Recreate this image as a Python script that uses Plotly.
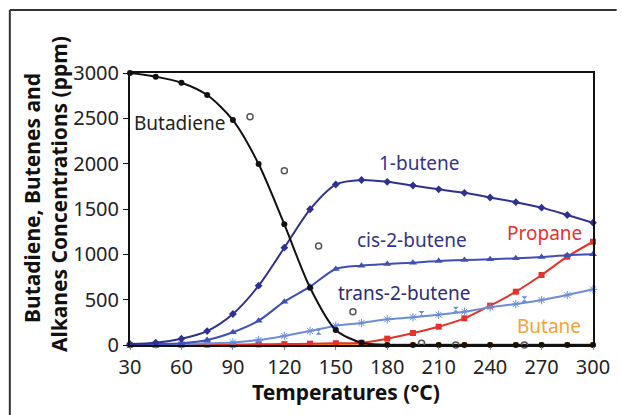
import plotly.graph_objects as go

temps = [30, 45, 60, 75, 90, 105, 120, 135, 150, 165, 180, 195, 210, 225, 240, 255, 270, 285, 300]

butadiene = [3000, 2960, 2893, 2757, 2481, 1996, 1331, 632, 165, 25, 0, 0, 0, 0, 0, 0, 0, 0, 0]
butene1 = [10, 25, 70, 154, 342, 654, 1073, 1497, 1770, 1820, 1800, 1759, 1717, 1678, 1627, 1575, 1515, 1434, 1349]
cis2 = [5, 10, 20, 55, 140, 268, 478, 643, 838, 875, 893, 908, 926, 937, 945, 956, 970, 989, 1000]
trans2 = [3, 5, 10, 18, 28, 55, 100, 154, 213, 243, 283, 305, 334, 367, 416, 452, 496, 551, 614]
propane = [0, 2, 3, 5, 5, 8, 10, 15, 20, 25, 70, 132, 202, 294, 434, 588, 772, 974, 1139]
butane = [0, 0, 0, 0, 0, 2, 2, 3, 5, 5, 5, 5, 5, 5, 5, 5, 5, 5, 5]

extra_x = [100, 120, 140, 160, 200, 220, 260]
extra_y = [2518, 1922, 1092, 367, 18, 0, 0]

trans_extra_x = [140, 200, 220, 260]
trans_extra_y = [145, 343, 390, 505]

labels = ["Butadiene", "1-butene", "cis-2-butene", "trans-2-butene", "Propane", "Butane"]
label_x = [59, 198.5, 194.7, 189.7, 271.7, 274.5]
label_y = [2445, 2004, 1158, 570, 1232, 210]
label_colors = ["#222222", "#33338a", "#33338a", "#2c2c78", "#e8312f", "#f7a233"]

x_ticks = [30, 60, 90, 120, 150, 180, 210, 240, 270, 300]
y_ticks = [0, 500, 1000, 1500, 2000, 2500, 3000]

FONT = "Noto Sans"

fig = go.Figure()

def add_series(y, color, symbol, size, width=2):
    fig.add_trace(go.Scatter(
        x=temps, y=y, mode="lines+markers",
        line=dict(color=color, width=width, shape="spline", smoothing=0.8),
        marker=dict(color=color, symbol=symbol, size=size),
        cliponaxis=False, showlegend=False))

add_series(butane, "#f7941d", "square", 5)
add_series(propane, "#e5312b", "square", 6)
add_series(trans2, "#6b8ed6", "asterisk-open", 7, 2)
fig.add_trace(go.Scatter(x=trans_extra_x, y=trans_extra_y, mode="markers",
                         marker=dict(symbol="hourglass", size=6, color="#6b8ed6"),
                         cliponaxis=False, showlegend=False))
add_series(cis2, "#3f4fb3", "triangle-up", 7)
add_series(butene1, "#2e3190", "diamond", 6)
add_series(butadiene, "#111111", "circle", 6)
fig.add_trace(go.Scatter(x=extra_x, y=extra_y, mode="markers",
                         marker=dict(symbol="circle-open", size=6, color="#555555",
                                     line=dict(width=1.5)),
                         cliponaxis=False, showlegend=False))

for t, lx, ly, c in zip(labels, label_x, label_y, label_colors):
    fig.add_annotation(x=lx, y=ly, text=t, showarrow=False, xanchor="center",
                       yanchor="middle", font=dict(family=FONT, size=19, color=c))

# axis titles
fig.add_annotation(xref="paper", yref="paper", x=(349 - 130) / 470, y=(345 - 391.7) / 272,
                   text="<b>Temperatures (°C)</b>", showarrow=False,
                   xanchor="center", yanchor="middle",
                   font=dict(family=FONT, size=21, color="#111111"))
fig.add_annotation(xref="paper", yref="paper", x=(30 - 130) / 470, y=(345 - 197.5) / 272,
                   text="<b>Butadiene, Butenes and</b>", showarrow=False, textangle=-90,
                   xanchor="center", yanchor="middle",
                   font=dict(family=FONT, size=21, color="#111111"))
fig.add_annotation(xref="paper", yref="paper", x=(57.5 - 130) / 470, y=(345 - 194.5) / 272,
                   text="<b>Alkanes Concentrations (ppm)</b>", showarrow=False, textangle=-90,
                   xanchor="center", yanchor="middle",
                   font=dict(family=FONT, size=21, color="#111111"))

# outer frame lines (top and left)
fig.add_shape(type="line", xref="paper", yref="paper",
              x0=(8 - 130) / 470, x1=(624 - 130) / 470,
              y0=(345 - 10) / 272, y1=(345 - 10) / 272,
              line=dict(color="#333333", width=2))
fig.add_shape(type="line", xref="paper", yref="paper",
              x0=(8 - 130) / 470, x1=(8 - 130) / 470,
              y0=(345 - 10) / 272, y1=(345 - 420) / 272,
              line=dict(color="#333333", width=2))

fig.update_layout(
    width=622, height=415,
    margin=dict(l=130, r=22, t=73, b=70),
    paper_bgcolor="white", plot_bgcolor="white",
    font=dict(family=FONT, size=20, color="#222222"),
    xaxis=dict(range=[30, 300], tickvals=x_ticks, showgrid=False, zeroline=False,
               showline=True, linecolor="#111111", linewidth=2, mirror=True,
               ticks="outside", ticklen=3, tickcolor="#888888",
               tickfont=dict(family=FONT, size=20, color="#222222")),
    yaxis=dict(range=[0, 3000], tickvals=y_ticks, showgrid=False, zeroline=False,
               showline=True, linecolor="#111111", linewidth=2, mirror=True,
               ticks="outside", ticklen=5, tickcolor="#111111",
               tickfont=dict(family=FONT, size=20, color="#222222")),
)

fig.write_html("out.html")
